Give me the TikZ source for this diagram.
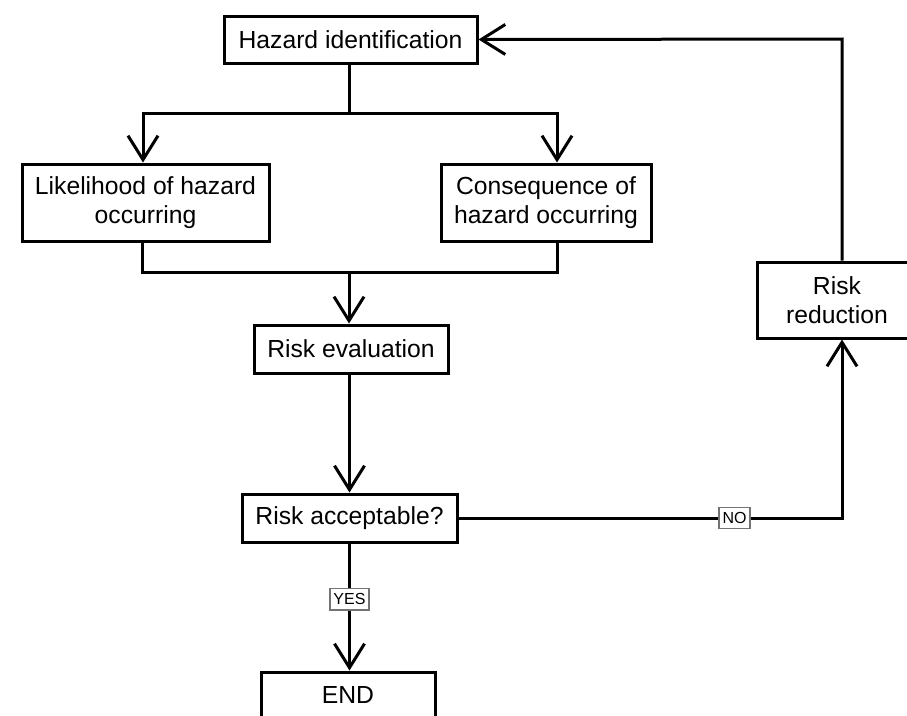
\documentclass[tikz,border=0pt]{standalone}
\usepackage{fontspec}
\setmainfont{Liberation Sans}
\usetikzlibrary{arrows.meta}
\begin{document}
\begin{tikzpicture}[x=1pt,y=-1pt,
  line width=3pt,
  box/.style={draw, rectangle, align=center, inner sep=0pt,
    font=\fontsize{24.7}{28.5}\selectfont},
  arr/.style={-{Straight Barb[length=24pt,width=30pt,line width=3pt]}},
  tag/.style={draw=black!55, line width=1.3pt, fill=white, inner xsep=3.5pt,
    inner ysep=5pt, font=\fontsize{16}{16}\selectfont}
]
\useasboundingbox (0,0) rectangle (907,715);

% process steps
\node[box, minimum width=253pt, minimum height=47pt] (haz) at (350.5,39.5) {Hazard identification};
\node[box, minimum width=247pt, minimum height=77pt] (lik) at (145.5,202.5) {Likelihood of hazard\\occurring};
\node[box, minimum width=210pt, minimum height=77pt] (cons) at (546,202.5) {Consequence of\\hazard occurring};
\node[box, minimum width=194pt, minimum height=48pt] (eval) at (351,349) {Risk evaluation};
\node[box, minimum width=215pt, minimum height=48pt] (acc) at (349.5,518) {Risk acceptable?};
\node[box, minimum width=174pt, minimum height=46pt] (done) at (348,695) {END};
\node[box, minimum width=160pt, minimum height=76pt] (red) at (837,300) {Risk\\reduction};

% junction points
\coordinate (split) at (349,113);
\coordinate (merge) at (349,272);
\coordinate (corner) at (842,518);
\coordinate (top) at (842,39);

% hazard identification branches to both assessments
\draw (haz.south -| split) -- (split);
\draw[arr] (split) -| ([xshift=-2.5pt]lik.north);
\draw[arr] (split) -| ([xshift=11pt]cons.north);

% both assessments merge into the evaluation
\draw ([xshift=-3.5pt]lik.south) |- (merge) -| ([xshift=11pt]cons.south);
\draw[arr] (merge) -- (eval.north -| merge);

\draw[arr] (eval.south -| acc.north) -- (acc.north);

% decision
\draw[arr] (acc.south) -- (done.north -| acc.south)
  node[tag, pos=0.44] {YES};
\draw[arr] (acc.east) -- (corner)
  node[tag, pos=0.72] {NO}
  -- ([xshift=5pt]red.south);

% feedback loop
\draw[arr] ([xshift=5pt]red.north) -- (top) -- (haz.east);
\end{tikzpicture}
\end{document}
